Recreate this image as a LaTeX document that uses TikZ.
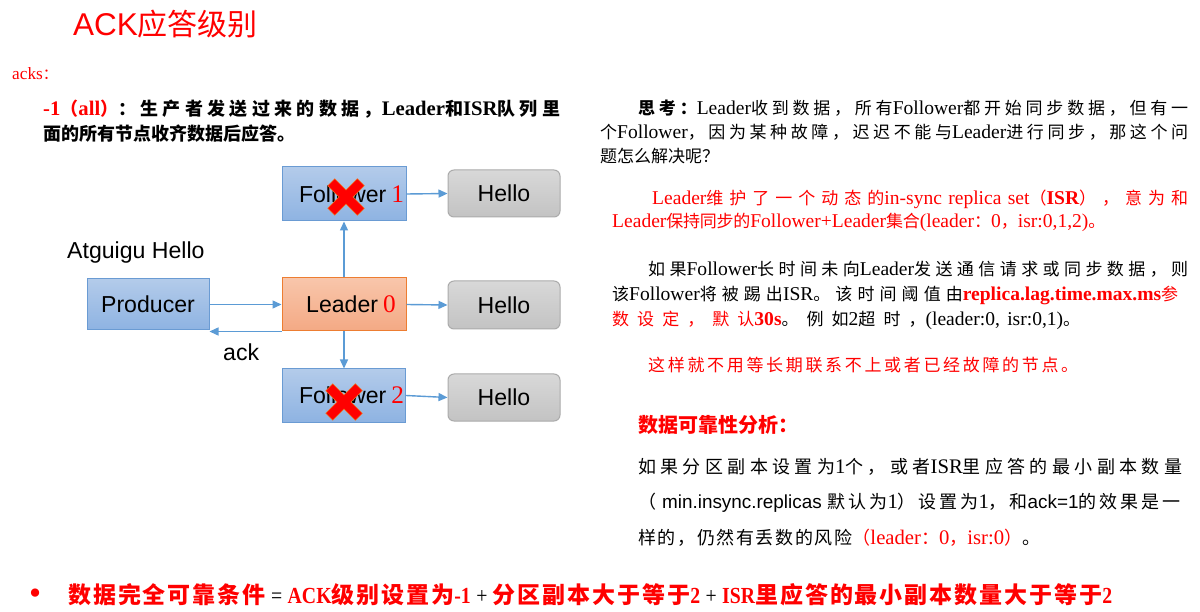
\documentclass[tikz,border=0pt]{standalone}
\usepackage{fontspec}
\setmainfont{Liberation Serif}[Scale=1.15]
\setsansfont{Liberation Sans}[Scale=1.05]
\newfontfamily\cjkfam{Noto Sans CJK SC}
\newfontfamily\condser{Liberation Serif}[FakeStretch=0.86]
\usetikzlibrary{arrows.meta}
% automatic switching between Latin and CJK fonts
\XeTeXinterchartokenstate=1
\newXeTeXintercharclass\CJKcls
\newcount\ccnt
\def\setcls#1#2{\ccnt=#1\relax\loop\XeTeXcharclass\ccnt=\CJKcls\relax\ifnum\ccnt<#2\relax\advance\ccnt by 1\repeat}
\setcls{"3000}{"303F}
\setcls{"4E00}{"9FFF}
\setcls{"FF00}{"FFEF}
\def\latinfam{\rmfamily}
\def\cjkglue{\hskip0pt plus 10pt minus 0.3pt\relax}
\XeTeXinterchartoks 0 \CJKcls = {\cjkfam}
\XeTeXinterchartoks 4095 \CJKcls = {\cjkfam}
\XeTeXinterchartoks \CJKcls 0 = {\latinfam}
\XeTeXinterchartoks \CJKcls 4095 = {\latinfam}
\XeTeXinterchartoks \CJKcls \CJKcls = {\cjkglue}
\newcommand\fitto[2]{\hbox to #1pt{#2}}
\definecolor{bluebd}{HTML}{6A9BD3}
\definecolor{bluetop}{HTML}{B3CBEA}
\definecolor{bluebot}{HTML}{8EB3E2}
\definecolor{orbd}{HTML}{ED7D31}
\definecolor{ortop}{HTML}{F8C6AB}
\definecolor{orbot}{HTML}{F4A984}
\definecolor{grbd}{HTML}{ABABAB}
\definecolor{grtop}{HTML}{D8D8D8}
\definecolor{grbot}{HTML}{C3C3C3}
\definecolor{arr}{HTML}{5B9BD5}
\definecolor{xorange}{HTML}{F07020}
\tikzset{
  dfont/.style={font=\fontsize{22}{26}\sffamily},
  bluebox/.style={draw=bluebd, line width=1pt, top color=bluetop, bottom color=bluebot, inner sep=0pt, dfont},
  leaderbox/.style={draw=orbd, line width=1pt, top color=ortop, bottom color=orbot, inner sep=0pt, dfont},
  hellobox/.style={draw=grbd, line width=1pt, rounded corners=6pt, top color=grtop, bottom color=grbot, inner sep=0pt, minimum width=112pt, dfont},
  conn/.style={draw=arr, line width=1.4pt, -{Triangle[length=9pt,width=8pt]}},
  txt/.style={anchor=base west, inner sep=0pt, font=\fontsize{17}{20}\selectfont},
  txtb/.style={anchor=base west, inner sep=0pt, font=\fontsize{18}{21}\selectfont},
  lbl/.style={anchor=base west, inner sep=0pt, dfont},
  xarm/.style={line width=9pt, draw=red},
  xarmbd/.style={line width=10.5pt, draw=xorange}
}
\begin{document}
\begin{tikzpicture}[x=1pt,y=-1pt]
\useasboundingbox (0,0) rectangle (1200,612);
\fill[white] (0,0) rectangle (1200,612);

% title and left text
\node[anchor=base west, inner sep=0pt, font=\fontsize{30}{34}\selectfont] (title) at (73,36)
  {\color{red}\def\latinfam{\sffamily}\sffamily ACK应答级别};
\node[anchor=base west, inner sep=0pt, font=\fontsize{15}{19}\selectfont] (acks) at (12,80) {\color{red}acks：};
\node[txtb] (p1) at (43,116) {\fitto{517}{\bfseries\color{red}-1（all）\color{black}：生产者发送过来的数据，Leader和ISR队列里}};
\node[txtb] (p2) at (43,141) {\bfseries 面的所有节点收齐数据后应答。};

% diagram
\node[bluebox, minimum width=122pt, minimum height=51pt] (prod) at (148,304.5) {Producer};
\node[leaderbox, minimum width=124pt, minimum height=53pt] (lead) at (344,304.5) {\hspace*{14pt}Leader\hspace{5pt}{\rmfamily\color{red}0}};
\node[bluebox, minimum width=124pt, minimum height=54pt] (f1) at (344,194) {\hspace*{15pt}Follower\hspace{5pt}{\rmfamily\color{red}1}};
\node[bluebox, minimum width=123pt, minimum height=53pt] (f2) at (344,395.5) {\hspace*{15pt}Follower\hspace{5pt}{\rmfamily\color{red}2}};
\node[hellobox, minimum height=47pt] (h1) at (504,193.5) {Hello};
\node[hellobox, minimum height=48pt] (h2) at (504,305) {Hello};
\node[hellobox, minimum height=47pt] (h3) at (504,397.5) {Hello};
\node[lbl] (atg) at (67,259) {Atguigu Hello};
\node[lbl] (ack) at (223,361) {ack};

\draw[conn] (prod.east) -- (lead.west);
\draw[conn] (lead.south west) -- (lead.south west -| prod.east);
\draw[conn] (lead.north) -- (f1.south);
\draw[conn] (lead.south) -- (f2.north);
\draw[conn] (f1.east) -- (h1.west);
\draw[conn] (lead.east) -- (h2.west);
\draw[conn] (f2.east) -- (h3.west);

% red crosses
\draw[xarmbd] (331,182) -- (361,212) (361,182) -- (331,212);
\draw[xarm] (331.5,182.5) -- (360.5,211.5) (360.5,182.5) -- (331.5,211.5);
\draw[xarmbd] (329,387) -- (359,417) (359,387) -- (329,417);
\draw[xarm] (329.5,387.5) -- (358.5,416.5) (358.5,387.5) -- (329.5,416.5);

% right column
\node[txt] (r1) at (638,115) {\fitto{550}{\bfseries 思考：\mdseries Leader收到数据，所有Follower都开始同步数据，但有一}};
\node[txt] (r2) at (600,139) {\fitto{588}{个Follower，因为某种故障，迟迟不能与Leader进行同步，那这个问}};
\node[txt] (r3) at (600,163) {题怎么解决呢？};
\node[txt] (r4) at (652,205) {\fitto{536}{\color{red}Leader维护了一个动态的in-sync replica set（\bfseries ISR\mdseries），意为和}};
\node[txt] (r5) at (612,228) {\fitto{468}{\color{red}Leader保持同步的Follower+Leader集合(leader：0，isr:0,1,2)。}};
\node[txt] (r6) at (648,276) {\fitto{540}{如果Follower长时间未向Leader发送通信请求或同步数据，则}};
\node[txt] (r7) at (612,301) {\fitto{566}{该Follower将被踢出ISR。该时间阈值由\color{red}\bfseries replica.lag.time.max.ms\mdseries 参}};
\node[txt] (r8) at (612,326) {\fitto{468}{\color{red}数设定，默认\bfseries 30s\mdseries\color{black}。例如2超时，(leader:0, isr:0,1)。}};
\node[txt] (r9) at (648,372) {\fitto{430}{\color{red}这样就不用等长期联系不上或者已经故障的节点。}};
\node[anchor=base west, inner sep=0pt, font=\fontsize{20}{24}\selectfont] (hd) at (638,432)
  {\color{red}\bfseries 数据可靠性分析：};
\node[txtb] (r11) at (638,473) {\fitto{544}{如果分区副本设置为1个，或者ISR里应答的最小副本数量}};
\node[txtb] (r12) at (638,508) {\fitto{542}{（ \sffamily\def\latinfam{\sffamily}min.insync.replicas \rmfamily\def\latinfam{\rmfamily}默认为1）设置为1，和\sffamily\def\latinfam{\sffamily}ack=1\def\latinfam{\rmfamily}的效果是一}};
\node[txtb] (r13) at (638,544) {\fitto{402}{样的，仍然有丢数的风险\color{red}（leader：0，isr:0）\color{black}。}};

% bottom line
\node[anchor=base west, inner sep=0pt, font=\fontsize{30}{30}\selectfont] (bul) at (29,604) {\color{red}•};
\node[anchor=base west, inner sep=0pt, font=\fontsize{23}{26}\selectfont] (bot) at (68,603)
  {\def\latinfam{\condser}\condser\fitto{1044}{\bfseries\color{red}数据完全可靠条件\mdseries\color{black}\ = \color{red}\bfseries ACK级别设置为-1\mdseries\color{black}\ + \color{red}\bfseries 分区副本大于等于2\mdseries\color{black}\ + \color{red}\bfseries ISR里应答的最小副本数量大于等于2}};
\end{tikzpicture}
\end{document}
